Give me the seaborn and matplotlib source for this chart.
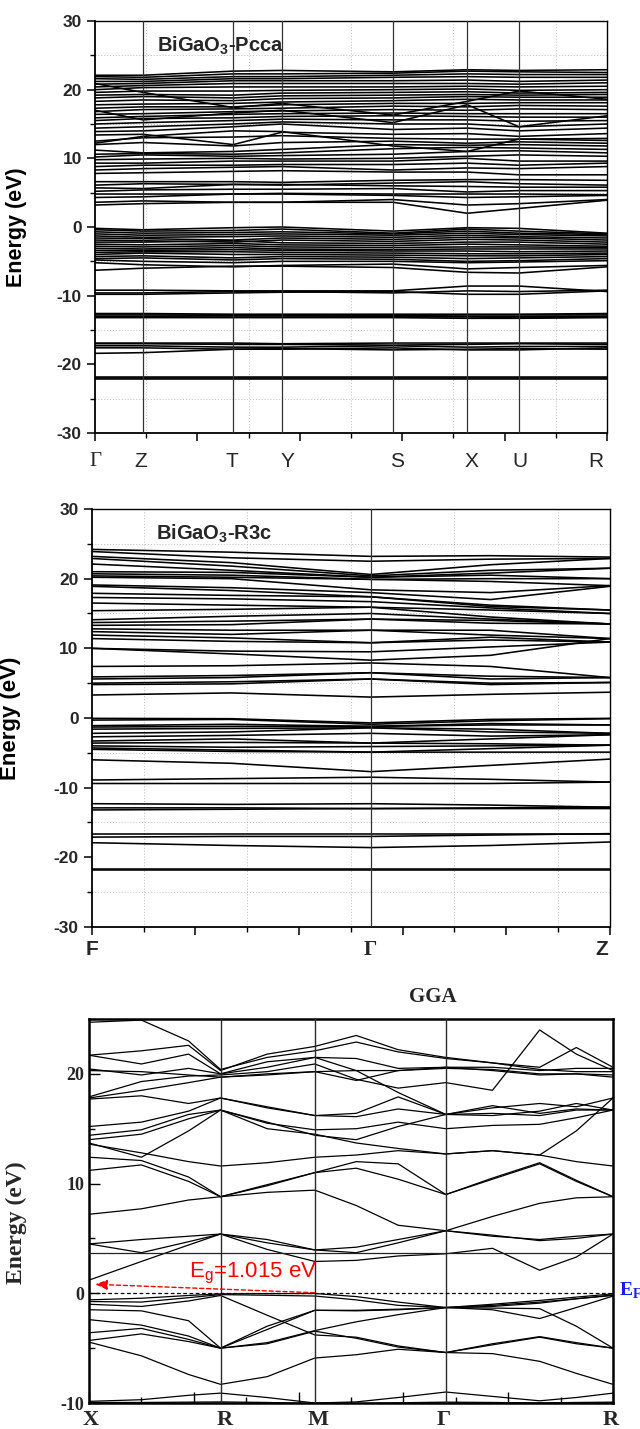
import numpy as np
import pandas as pd
import matplotlib
matplotlib.use("Agg")
import matplotlib.pyplot as plt
import seaborn as sns
from matplotlib.ticker import MultipleLocator, NullFormatter
import matplotlib.transforms as mtransforms

sns.set_theme(style="white")
plt.rcParams["font.family"] = ["Liberation Sans", "DejaVu Sans"]
plt.rcParams.update({
    "mathtext.fontset": "custom",
    "mathtext.rm": "Liberation Sans:bold",
    "mathtext.sf": "Liberation Sans",
    "mathtext.bf": "Liberation Serif:bold",
})

# ---------------- Panel 1: BiGaO3-Pcca ----------------
PCCA_K = [0.0, 0.094, 0.270, 0.365, 0.582, 0.727, 0.828, 1.0]
PCCA_LABELS = ["Γ", "Z", "T", "Y", "S", "X", "U", "R"]
PCCA_LABEL_POS = [0.0, 0.090, 0.268, 0.375, 0.590, 0.736, 0.830, 0.979]
PCCA_CORE = [
    [-21.85, -21.85, -21.85, -21.85, -21.85, -21.85, -21.85, -21.85],
    [-22.0, -22.0, -22.0, -22.0, -22.0, -22.0, -22.0, -22.0],
    [-22.15, -22.15, -22.15, -22.15, -22.15, -22.15, -22.15, -22.15],
    [-18.4, -18.3, -17.8, -17.8, -17.6, -17.9, -17.9, -17.6],
    [-17.6, -17.6, -17.8, -17.7, -17.9, -17.8, -17.7, -17.8],
    [-17.3, -17.3, -17.5, -17.5, -17.3, -17.5, -17.4, -17.4],
    [-17.0, -17.0, -17.1, -17.1, -17.2, -17.1, -17.0, -17.1],
    [-16.9, -16.9, -16.9, -17.0, -16.9, -16.9, -16.9, -16.9],
    [-12.6, -12.6, -12.7, -12.7, -12.7, -12.7, -12.7, -12.6],
    [-12.8, -12.8, -12.8, -12.8, -12.9, -12.8, -12.8, -12.8],
    [-13.0, -13.0, -12.9, -12.9, -13.0, -13.0, -13.0, -13.0],
    [-13.1, -13.1, -13.1, -13.1, -13.1, -13.1, -13.2, -13.1],
    [-13.2, -13.2, -13.2, -13.2, -13.2, -13.3, -13.3, -13.2],
    [-9.2, -9.2, -9.3, -9.3, -9.3, -8.6, -8.6, -9.4],
    [-9.6, -9.6, -9.4, -9.4, -9.6, -9.3, -9.4, -9.2],
    [-9.8, -9.8, -9.6, -9.5, -9.4, -9.8, -9.8, -9.3],
]
PCCA_VALENCE = [
    [-6.3, -6.0, -5.7, -5.7, -5.9, -6.6, -6.7, -5.8],
    [-5.2, -5.5, -5.8, -5.6, -5.4, -6.1, -5.9, -5.6],
    [-4.8, -5.0, -5.2, -5.0, -5.0, -5.2, -5.1, -4.9],
    [-0.2, -0.4, -0.1, 0.0, -0.6, -0.1, -0.2, -0.9],
    [-0.4, -0.6, -0.5, -0.3, -0.9, -0.3, -0.6, -1.0],
    [-0.7, -0.9, -0.8, -0.7, -1.0, -0.6, -0.9, -1.1],
    [-1.0, -1.2, -1.1, -1.0, -1.2, -0.9, -1.1, -1.3],
    [-1.3, -1.5, -1.4, -1.3, -1.5, -1.2, -1.4, -1.6],
    [-1.6, -1.7, -1.9, -1.6, -1.8, -1.5, -1.6, -1.9],
    [-1.9, -2.0, -2.2, -1.9, -2.1, -1.8, -1.9, -2.2],
    [-2.2, -2.2, -2.0, -2.3, -2.4, -2.2, -2.2, -2.5],
    [-2.5, -2.6, -2.4, -2.6, -2.7, -2.5, -2.6, -2.8],
    [-2.8, -2.9, -2.7, -2.9, -3.0, -2.9, -2.9, -3.0],
    [-3.1, -3.2, -3.0, -3.2, -3.3, -3.2, -3.2, -3.2],
    [-3.4, -3.4, -3.3, -3.4, -3.5, -3.5, -3.6, -3.5],
    [-3.7, -3.6, -3.6, -3.7, -3.8, -3.9, -3.9, -3.8],
    [-4.0, -3.8, -4.0, -4.0, -4.1, -4.2, -4.2, -4.0],
    [-4.3, -4.2, -4.5, -4.3, -4.4, -4.6, -4.5, -4.3],
    [-4.6, -4.5, -4.8, -4.6, -4.7, -5.0, -4.9, -4.6],
]
PCCA_CONDUCTION = [
    [3.2, 3.4, 3.6, 3.6, 3.6, 2.0, 2.7, 3.9],
    [3.6, 3.8, 3.6, 3.6, 4.0, 3.2, 3.4, 4.0],
    [4.3, 4.4, 4.8, 4.8, 4.6, 4.3, 4.4, 4.6],
    [4.8, 4.8, 4.8, 4.9, 4.8, 4.8, 4.8, 4.7],
    [5.2, 5.4, 5.5, 5.5, 5.6, 5.1, 5.3, 5.3],
    [5.7, 5.6, 6.2, 6.2, 6.0, 5.9, 5.8, 5.8],
    [6.1, 6.3, 6.2, 6.1, 6.4, 6.6, 6.3, 6.1],
    [6.6, 6.6, 6.6, 6.5, 6.8, 6.9, 6.9, 6.8],
    [7.8, 7.9, 8.1, 8.2, 8.0, 8.0, 7.6, 7.6],
    [8.3, 8.5, 8.7, 8.8, 8.3, 8.6, 8.5, 8.8],
    [8.8, 9.0, 9.0, 9.1, 9.1, 9.3, 9.0, 9.3],
    [9.3, 9.3, 9.6, 9.6, 9.6, 10.0, 9.6, 9.6],
    [9.8, 9.9, 10.0, 9.9, 10.0, 10.3, 10.5, 10.3],
    [10.2, 10.5, 10.3, 10.4, 10.6, 11.0, 11.1, 10.8],
    [10.6, 10.7, 10.6, 10.8, 11.4, 11.6, 11.5, 11.3],
    [11.2, 10.8, 11.0, 11.3, 12.0, 11.9, 12.0, 11.8],
    [12.0, 12.3, 11.8, 12.3, 12.5, 12.2, 12.4, 12.2],
    [12.5, 13.0, 13.1, 13.3, 12.9, 12.8, 12.8, 12.9],
    [13.4, 13.5, 12.0, 13.8, 13.5, 13.6, 13.2, 13.6],
    [13.9, 14.0, 14.6, 15.0, 14.2, 14.4, 14.0, 14.4],
    [14.4, 14.6, 15.0, 15.3, 15.0, 15.0, 14.6, 15.0],
    [15.0, 15.2, 15.5, 15.7, 15.6, 15.6, 15.4, 15.5],
    [15.5, 15.8, 15.9, 16.1, 16.2, 16.1, 16.0, 16.0],
    [15.9, 16.1, 16.4, 16.5, 16.6, 16.5, 16.5, 16.5],
    [16.4, 16.5, 16.8, 16.9, 17.1, 17.0, 17.2, 17.1],
    [16.8, 17.1, 17.2, 17.3, 17.6, 17.5, 17.7, 17.6],
    [17.3, 17.5, 17.5, 17.8, 18.0, 18.0, 18.1, 18.1],
    [17.8, 17.9, 18.0, 18.2, 18.4, 18.6, 18.5, 18.5],
    [18.3, 18.5, 18.4, 18.7, 18.8, 19.0, 18.9, 18.9],
    [18.8, 19.0, 18.8, 19.1, 19.2, 19.3, 19.2, 19.3],
    [19.2, 19.3, 19.2, 19.5, 19.6, 19.7, 19.5, 19.6],
    [19.6, 19.8, 19.8, 19.9, 20.0, 20.1, 19.9, 20.0],
    [20.0, 20.3, 20.4, 20.4, 20.4, 20.5, 20.4, 20.5],
    [20.4, 20.6, 20.9, 20.9, 20.9, 20.9, 20.8, 21.0],
    [20.8, 20.9, 21.3, 21.3, 21.3, 21.4, 21.2, 21.4],
    [21.2, 21.2, 21.6, 21.6, 21.8, 21.9, 21.8, 21.8],
    [21.6, 21.5, 21.9, 21.9, 22.1, 22.3, 22.2, 22.2],
    [21.9, 21.8, 22.3, 22.3, 22.4, 22.7, 22.6, 22.5],
    [22.1, 22.1, 22.7, 22.8, 22.6, 22.9, 22.8, 22.9],
    [17.0, 15.6, 16.6, 17.0, 15.2, 17.8, 14.6, 16.2],
    [20.9, 19.6, 17.4, 18.0, 16.3, 18.3, 19.8, 18.6],
    [12.2, 13.2, 14.0, 13.9, 11.8, 11.0, 12.8, 12.6],
]

# ---------------- Panel 2: BiGaO3-R3c ----------------
R3C_K = [0.0, 0.27, 0.539, 0.77, 1.0]
R3C_LABELS = ["F", "Γ", "Z"]
R3C_LABEL_POS = [0.0, 0.537, 0.985]
R3C_CONDUCTION = [
    [24.2, 23.8, 23.2, 23.3, 23.1],
    [23.9, 23.0, 22.5, 22.8, 22.9],
    [23.2, 22.3, 20.6, 22.0, 22.9],
    [22.9, 21.8, 20.4, 21.2, 21.5],
    [22.1, 21.2, 20.2, 20.8, 21.5],
    [21.0, 20.9, 20.2, 20.5, 20.0],
    [20.7, 20.5, 19.9, 20.0, 20.0],
    [20.4, 20.2, 19.9, 19.6, 19.0],
    [20.2, 20.0, 18.4, 18.0, 19.0],
    [19.1, 18.7, 18.0, 17.0, 18.9],
    [18.9, 18.3, 17.4, 16.2, 15.5],
    [17.9, 17.6, 17.4, 16.0, 15.5],
    [17.3, 17.1, 16.7, 15.8, 15.0],
    [16.5, 16.2, 15.9, 15.5, 15.0],
    [15.4, 15.6, 15.9, 14.5, 13.5],
    [14.1, 14.6, 15.0, 14.2, 13.5],
    [13.7, 13.9, 14.2, 14.0, 13.5],
    [13.3, 13.4, 14.2, 13.6, 13.5],
    [12.8, 12.6, 12.6, 12.6, 11.4],
    [12.4, 12.0, 12.6, 11.9, 11.4],
    [11.9, 11.5, 10.8, 11.6, 10.9],
    [11.4, 11.0, 10.8, 11.2, 10.9],
    [10.0, 9.6, 9.5, 10.2, 10.9],
    [10.0, 9.2, 8.3, 9.0, 11.4],
    [7.4, 7.5, 7.9, 7.4, 5.8],
    [5.9, 6.1, 6.5, 6.0, 5.8],
    [5.6, 5.8, 6.5, 5.6, 5.8],
    [5.0, 5.2, 5.6, 5.0, 5.1],
    [4.8, 4.9, 5.6, 4.8, 5.1],
    [3.3, 3.6, 3.0, 3.4, 3.7],
]
R3C_VALENCE = [
    [-0.05, -0.1, -0.7, -0.2, -0.05],
    [-0.3, -0.2, -0.9, -0.4, -0.1],
    [-1.1, -0.9, -1.2, -0.8, -1.0],
    [-1.3, -1.2, -1.2, -1.0, -1.0],
    [-1.6, -1.5, -1.4, -1.6, -2.2],
    [-2.2, -2.0, -1.4, -2.0, -2.2],
    [-2.7, -2.5, -2.2, -2.6, -2.4],
    [-3.3, -3.0, -3.6, -3.0, -2.4],
    [-3.6, -3.5, -3.6, -3.7, -3.9],
    [-4.0, -4.2, -4.1, -4.0, -3.9],
    [-4.3, -4.6, -4.9, -4.4, -3.9],
    [-4.5, -4.8, -4.9, -4.9, -4.9],
    [-6.0, -6.5, -7.7, -6.8, -5.9],
    [-8.9, -8.7, -8.5, -8.8, -9.2],
    [-9.4, -9.4, -9.4, -9.4, -9.2],
    [-12.3, -12.4, -12.3, -12.5, -12.8],
    [-12.9, -12.9, -13.0, -12.9, -12.8],
    [-13.2, -13.1, -13.0, -13.0, -13.0],
    [-16.6, -16.6, -16.6, -16.6, -16.6],
    [-17.1, -17.0, -17.0, -16.8, -16.6],
    [-17.9, -18.3, -18.6, -18.3, -17.8],
    [-21.7, -21.7, -21.7, -21.7, -21.7],
    [-21.85, -21.85, -21.85, -21.85, -21.85],
]

# ---------------- Panel 3: GGA ----------------
GGA_K = [0.0, 0.10, 0.19, 0.251, 0.34, 0.431, 0.51, 0.59, 0.681, 0.77, 0.86, 0.93, 1.0]
GGA_HS = [0.251, 0.431, 0.681]
GGA_LABELS = ["X", "R", "M", "Γ", "R"]
GGA_LABEL_POS = [0.004, 0.258, 0.438, 0.676, 0.995]
GGA_VALENCE = [
    [-9.95, -9.95, -9.92, -9.9, -9.95, -10.05, -10.05, -9.98, -9.92, -9.95, -10.0, -9.95, -9.92],
    [-9.85, -9.7, -9.3, -9.1, -9.5, -10.0, -9.9, -9.5, -9.0, -9.4, -9.8, -9.5, -9.1],
    [-4.45, -5.7, -7.4, -8.3, -7.6, -5.9, -5.6, -5.1, -5.4, -5.5, -6.2, -7.3, -8.3],
    [-4.3, -3.7, -4.4, -5.0, -4.6, -3.45, -4.1, -4.9, -5.4, -4.7, -4.0, -4.6, -5.0],
    [-3.6, -3.2, -4.2, -5.0, -3.3, -1.55, -1.6, -1.5, -1.3, -1.35, -1.4, -3.0, -5.0],
    [-2.4, -2.9, -3.9, -5.0, -4.5, -3.4, -2.6, -1.95, -1.3, -1.1, -0.8, -0.5, -0.2],
    [-1.5, -1.6, -2.5, -5.0, -3.0, -1.55, -1.55, -1.45, -1.3, -1.5, -2.3, -1.3, -0.25],
    [-1.0, -1.2, -0.7, -0.2, -2.0, -3.8, -4.0, -4.8, -5.4, -4.6, -3.95, -4.5, -5.0],
    [-0.75, -0.8, -0.4, -0.12, -0.18, -0.25, -0.6, -1.1, -1.3, -1.2, -0.9, -0.5, -0.15],
    [-0.6, -0.45, -0.2, -0.05, -0.03, -0.02, -0.3, -0.8, -1.3, -1.0, -0.65, -0.35, -0.05],
]
GGA_CONDUCTION = [
    [1.2, 2.9, 4.4, 5.4, 4.6, 3.95, 4.2, 4.9, 5.7, 5.3, 4.8, 5.0, 5.4],
    [4.5, 3.7, 4.7, 5.4, 4.0, 2.9, 3.0, 3.4, 3.6, 4.1, 2.1, 3.3, 5.4],
    [4.5, 4.9, 5.2, 5.4, 4.9, 3.95, 3.7, 4.6, 5.7, 5.2, 4.9, 5.2, 5.4],
    [7.2, 7.7, 8.5, 8.8, 9.2, 9.4, 8.0, 6.2, 5.7, 7.0, 8.2, 8.7, 8.8],
    [11.2, 11.7, 10.2, 8.8, 9.9, 11.0, 11.4, 10.4, 9.0, 10.5, 11.9, 10.3, 8.8],
    [12.4, 12.1, 10.6, 8.8, 9.8, 11.0, 12.0, 11.8, 9.0, 10.4, 11.8, 10.2, 8.8],
    [13.6, 12.8, 12.0, 11.6, 11.9, 12.4, 12.6, 13.0, 12.7, 13.0, 12.6, 12.0, 11.6],
    [13.7, 12.4, 14.8, 16.7, 15.6, 14.4, 14.0, 15.2, 16.3, 17.1, 16.4, 16.8, 16.7],
    [14.0, 14.5, 15.9, 16.7, 15.5, 14.9, 15.0, 15.6, 15.0, 15.3, 15.4, 16.0, 16.7],
    [14.4, 14.9, 16.3, 16.7, 15.0, 14.5, 13.7, 13.2, 12.7, 13.0, 12.6, 14.8, 17.8],
    [15.2, 15.6, 16.6, 17.8, 16.9, 16.2, 16.1, 16.8, 16.3, 16.9, 17.3, 17.0, 17.8],
    [17.7, 18.0, 17.3, 17.8, 17.0, 16.2, 16.4, 17.9, 16.3, 16.2, 16.6, 17.3, 16.7],
    [17.8, 18.5, 19.2, 19.7, 19.9, 20.2, 20.3, 20.3, 20.5, 20.4, 20.0, 20.0, 19.7],
    [17.9, 19.3, 19.8, 19.9, 20.2, 20.9, 19.5, 18.7, 19.2, 18.5, 24.0, 21.8, 20.3],
    [20.3, 20.2, 19.9, 19.7, 20.0, 20.2, 19.4, 20.3, 20.6, 20.3, 19.9, 20.0, 19.9],
    [20.45, 19.9, 20.5, 20.0, 20.6, 21.5, 20.3, 18.3, 16.3, 16.4, 16.2, 16.7, 16.7],
    [21.7, 20.9, 21.8, 20.0, 21.1, 21.5, 21.4, 20.5, 20.6, 20.6, 20.3, 20.5, 20.5],
    [21.7, 22.1, 22.6, 20.3, 21.8, 22.5, 23.5, 22.2, 21.5, 21.0, 20.4, 20.2, 20.2],
    [24.7, 24.9, 23.0, 20.4, 21.5, 22.1, 22.9, 22.0, 21.4, 21.0, 20.6, 22.4, 20.6],
]
GGA_CBM_LINE = 3.65
GGA_GAP_TEXT = "E$_\\mathsf{g}$=1.015 eV"
GGA_ARROW_FROM = (0.431, 0.05)
GGA_ARROW_TO = (0.012, 0.82)


def bands_df(k, bands):
    rows = []
    for i, b in enumerate(bands):
        for kk, e in zip(k, b):
            rows.append((i, kk, e))
    return pd.DataFrame(rows, columns=["band", "k", "E"])


W, H = 640, 1429
fig = plt.figure(figsize=(W / 100, H / 100), dpi=100)
fig.patch.set_facecolor("white")


def rect(l, r, t, b):
    return [l / W, 1 - b / H, (r - l) / W, (b - t) / H]


def style_sans_axes(ax):
    ax.set_xlim(0, 1)
    ax.set_ylim(-30, 30)
    ax.xaxis.set_major_locator(MultipleLocator(0.2))
    ax.xaxis.set_minor_locator(MultipleLocator(0.1))
    ax.yaxis.set_major_locator(MultipleLocator(10))
    ax.yaxis.set_minor_locator(MultipleLocator(5))
    ax.xaxis.set_major_formatter(NullFormatter())
    ax.grid(False)
    ax.grid(which="minor", ls=(0, (1, 2)), color="#bdbdbd", lw=0.7)
    ax.set_axisbelow(True)
    ax.tick_params(which="major", direction="out", length=6, width=1.1, color="black",
                   left=True, bottom=True, top=False, right=False, labelsize=12.5)
    ax.tick_params(which="minor", direction="out", length=3.5, width=1.0, color="black",
                   left=True, bottom=True, top=False, right=False)
    for s in ax.spines.values():
        s.set_color("black")
        s.set_linewidth(1.0)
    ax.spines["left"].set_linewidth(1.3)
    ax.spines["bottom"].set_linewidth(1.3)
    ax.set_xlabel("")
    ax.set_ylabel("Energy (eV)", fontsize=15.5, fontweight="bold", color="black")
    ax.set_yticks([-30, -20, -10, 0, 10, 20, 30])
    ax.set_yticklabels(["-30", "-20", "-10", "0", "10", "20", "30"],
                       fontweight="bold", fontsize=12.5)


# ---- Panel 1 ----
ax1 = fig.add_axes(rect(95, 607, 21, 433))
df1 = bands_df(PCCA_K, PCCA_CORE + PCCA_VALENCE + PCCA_CONDUCTION)
sns.lineplot(data=df1, x="k", y="E", units="band", estimator=None, sort=False,
             color="black", lw=1.15, ax=ax1, legend=False)
for xk in PCCA_K[1:-1]:
    ax1.axvline(xk, color="#333333", lw=0.9, zorder=3)
style_sans_axes(ax1)
ax1.yaxis.set_label_coords(-0.133, 0.5)
tr1 = mtransforms.blended_transform_factory(ax1.transData, ax1.transAxes)
for lab, pos in zip(PCCA_LABELS, PCCA_LABEL_POS):
    fam = ["Liberation Serif"] if lab == "Γ" else ["Liberation Sans"]
    ax1.text(pos, -0.068, lab, transform=tr1, ha="center", va="center",
             fontsize=15, family=fam)
ax1.text(0.122, 26.4, "BiGaO$_\\mathrm{3}$-Pcca", fontsize=14.5, fontweight="bold",
         ha="left", va="center")

# ---- Panel 2 ----
ax2 = fig.add_axes(rect(91.7, 609.7, 509, 927))
df2 = bands_df(R3C_K, R3C_CONDUCTION + R3C_VALENCE)
sns.lineplot(data=df2, x="k", y="E", units="band", estimator=None, sort=False,
             color="black", lw=1.15, ax=ax2, legend=False)
ax2.axvline(R3C_K[2], color="#333333", lw=0.9, zorder=3)
style_sans_axes(ax2)
ax2.set_ylabel("Energy (eV)", fontsize=16, fontweight="bold")
ax2.yaxis.set_label_coords(-0.137, 0.5)
tr2 = mtransforms.blended_transform_factory(ax2.transData, ax2.transAxes)
for lab, pos in zip(R3C_LABELS, R3C_LABEL_POS):
    fam = ["Liberation Serif"] if lab == "Γ" else ["Liberation Sans"]
    ax2.text(pos, -0.055, lab, transform=tr2, ha="center", va="center",
             fontsize=15, fontweight="bold", family=fam)
ax2.text(0.125, 26.4, "BiGaO$_\\mathrm{3}$-R3c", fontsize=14.5, fontweight="bold",
         ha="left", va="center")

# ---- Panel 3 ----
ax3 = fig.add_axes(rect(89, 613, 1019, 1403))
df3 = bands_df(GGA_K, GGA_VALENCE + GGA_CONDUCTION)
sns.lineplot(data=df3, x="k", y="E", units="band", estimator=None, sort=False,
             color="black", lw=0.9, ax=ax3, legend=False)
for xk in GGA_HS:
    ax3.axvline(xk, color="#2a2a2a", lw=1.0, zorder=3)
ax3.axhline(GGA_CBM_LINE, color="#222222", lw=0.9, zorder=3)
ax3.axhline(0.0, color="black", lw=0.9, ls=(0, (3, 2)), zorder=3)
ax3.set_xlim(0, 1)
ax3.set_ylim(-10, 25)
ax3.grid(False)
ax3.xaxis.set_major_locator(MultipleLocator(0.2))
ax3.xaxis.set_minor_locator(MultipleLocator(0.1))
ax3.yaxis.set_major_locator(MultipleLocator(10))
ax3.yaxis.set_minor_locator(MultipleLocator(5))
ax3.xaxis.set_major_formatter(NullFormatter())
ax3.tick_params(which="major", direction="in", length=8, width=1.0, color="black",
                left=True, bottom=True, top=False, right=False, labelsize=12.5)
ax3.tick_params(which="minor", direction="in", length=4.5, width=1.0, color="black",
                left=True, bottom=True, top=False, right=False)
ax3.set_yticks([-10, 0, 10, 20])
ax3.set_yticklabels(["-10", "0", "10", "20"], family=["Liberation Serif"],
                    fontweight="bold", fontsize=13)
for s in ax3.spines.values():
    s.set_color("black")
    s.set_linewidth(1.8)
ax3.set_xlabel("")
ax3.set_ylabel("Energy (eV)", fontsize=17, fontweight="bold", family=["Liberation Serif"])
ax3.yaxis.set_label_coords(-0.118, 0.47)
tr3 = mtransforms.blended_transform_factory(ax3.transData, ax3.transAxes)
for lab, pos in zip(GGA_LABELS, GGA_LABEL_POS):
    ax3.text(pos, -0.045, lab, transform=tr3, ha="center", va="center",
             fontsize=16, fontweight="bold", family=["Liberation Serif"])
ax3.text(0.656, 1.057, "GGA", transform=ax3.transAxes, ha="center", va="center",
         fontsize=15, fontweight="bold", family=["Liberation Serif"])
ax3.text(1.012, 0.25, "E$_\\mathbf{F}$",
         transform=mtransforms.blended_transform_factory(ax3.transAxes, ax3.transData),
         ha="left", va="center", color="#1a1aff", fontsize=14, fontweight="bold",
         family=["Liberation Serif"], clip_on=False)
ax3.text(0.19, 1.45, GGA_GAP_TEXT, color="red", fontsize=16, ha="left",
         va="baseline", family=["Liberation Sans"])
ax3.annotate("", xy=GGA_ARROW_TO, xytext=GGA_ARROW_FROM,
             arrowprops=dict(arrowstyle="-|>,head_length=0.6,head_width=0.25",
                             color="red", lw=1.0, ls=(0, (3, 2)),
                             shrinkA=0, shrinkB=0))

fig.savefig("out.png", dpi=100, facecolor="white")
